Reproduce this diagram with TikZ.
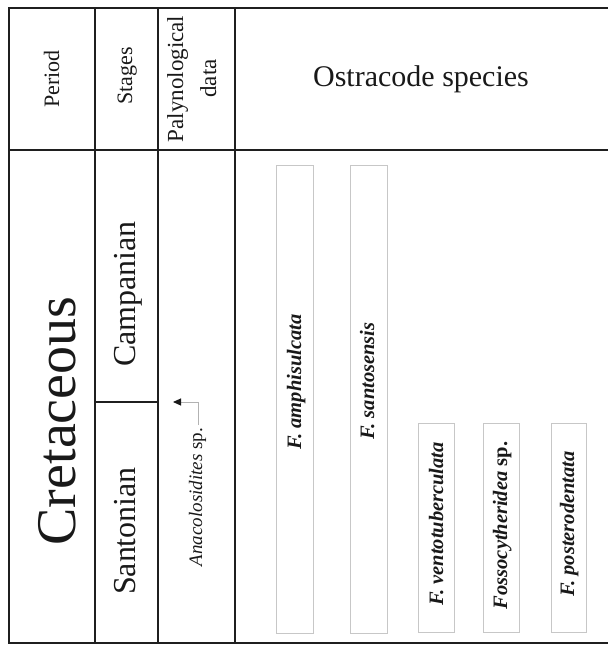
\documentclass[tikz,border=0pt]{standalone}
\usepackage{fontspec}
\setmainfont{Liberation Serif}
\usetikzlibrary{arrows.meta}
\begin{document}
\begin{tikzpicture}[x=1pt,y=-1pt,
  frame/.style={line width=2.6pt, draw=black!88, line join=miter},
  spbox/.style={draw=black!22, line width=1pt},
  vlabel/.style={rotate=90, inner sep=0pt, anchor=base, text=black!90},
  sptext/.style={vlabel, font=\fontsize{20.5}{20.5}\selectfont\bfseries\itshape}]
\useasboundingbox (0,0) rectangle (608,646);
% frame
\draw[frame] (608,8) -- (9,8) -- (9,643) -- (608,643);
\draw[frame] (9,150) -- (608,150);
\draw[frame] (95,8) -- (95,643);
\draw[frame] (158,8) -- (158,643);
\draw[frame] (235,8) -- (235,643);
\draw[frame] (95,402) -- (158,402);
% header texts
\node[vlabel, font=\fontsize{22}{22}\selectfont] (period) at (59,79) {Period};
\node[vlabel, font=\fontsize{22}{22}\selectfont] (stages) at (132,76) {Stages};
\node[vlabel, font=\fontsize{23}{23}\selectfont] (paly1) at (183,79) {Palynological};
\node[vlabel, font=\fontsize{23}{23}\selectfont] (paly2) at (216,78.5) {data};
\node[inner sep=0pt, text=black!90, font=\fontsize{30}{30}\selectfont] (ostra) at (421,79) {Ostracode species};
% body texts
\node[vlabel, font=\fontsize{56}{56}\selectfont] (cret) at (75,421) {Cretaceous};
\node[vlabel, font=\fontsize{32}{32}\selectfont] (camp) at (135,294) {Campanian};
\node[vlabel, font=\fontsize{32}{32}\selectfont] (sant) at (135,531) {Santonian};
\node[vlabel, font=\fontsize{19}{19}\selectfont] (anac) at (202,497) {\itshape Anacolosidites\upshape{} sp.};
% arrow
\coordinate (arrS) at (198,425);
\coordinate (arrE) at (173,402);
\draw[draw=black!30, line width=1pt, -{Triangle[length=8pt,width=7pt,color=black!90]}] (arrS) |- (arrE);
% species boxes
\draw[spbox] (276,165) rectangle (313,633);
\draw[spbox] (350,165) rectangle (387,633);
\draw[spbox] (418,423) rectangle (454,632);
\draw[spbox] (483,423) rectangle (519,632);
\draw[spbox] (551,423) rectangle (586,632);
% species labels
\node[sptext] (amph) at (301,382) {F. amphisulcata};
\node[sptext] (sant2) at (374,381) {F. santosensis};
\node[sptext] (vent) at (443,524) {F. ventotuberculata};
\node[sptext] (foss) at (507,525.5) {Fossocytheridea \upshape sp.};
\node[sptext] (post) at (574,524) {F. posterodentata};
\end{tikzpicture}
\end{document}
